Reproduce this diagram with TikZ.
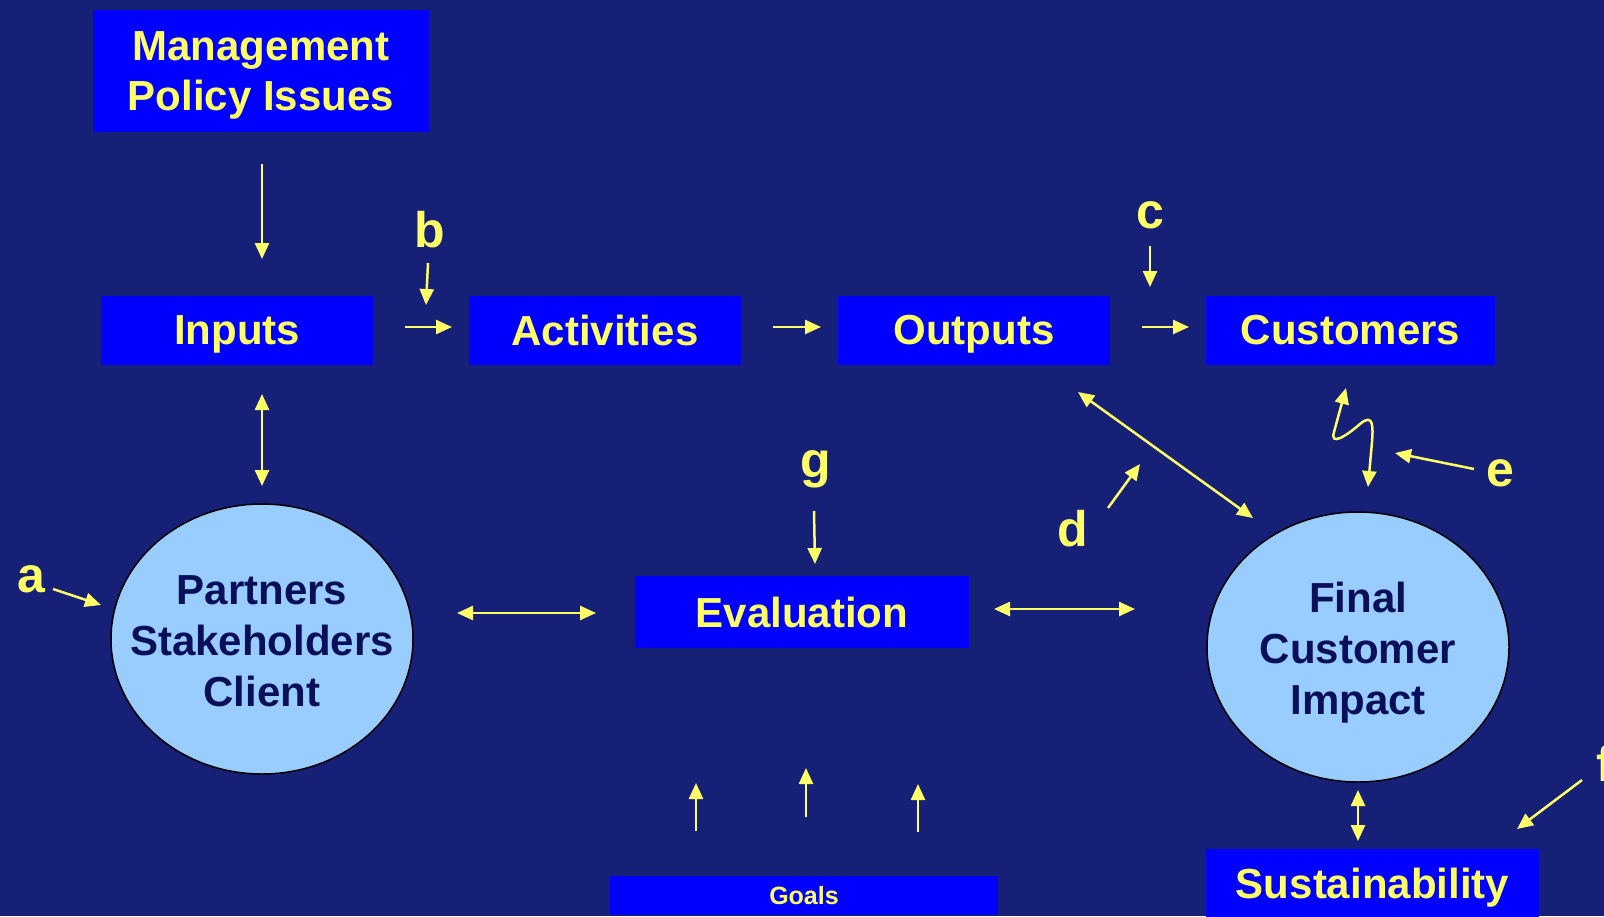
\documentclass[tikz,border=0pt]{standalone}
\usepackage{fontspec}
\setmainfont{Liberation Sans}
\usetikzlibrary{arrows.meta,shapes.geometric}
\definecolor{bg}{RGB}{22,32,118}
\definecolor{boxblue}{RGB}{0,0,255}
\definecolor{ylw}{RGB}{255,255,102}
\definecolor{ellfill}{RGB}{153,204,255}
\definecolor{elltext}{RGB}{10,15,90}
\begin{document}
\begin{tikzpicture}[x=1pt,y=-1pt,
  bluebox/.style={rectangle, fill=boxblue, text=ylw, font=\bfseries\fontsize{42}{50}\selectfont, inner sep=0pt, align=center, text depth=0pt},
  ellnode/.style={ellipse, draw=black, line width=1.5pt, fill=ellfill, inner sep=0pt, minimum width=302pt, minimum height=270pt},
  elltxt/.style={text=elltext, font=\bfseries\fontsize{42}{51}\selectfont, align=center, inner sep=0pt},
  arr/.style={draw=ylw, line width=2.5pt, -{Triangle[length=16pt,width=14pt]}},
  darr/.style={draw=ylw, line width=2.5pt, {Triangle[length=16pt,width=14pt]}-{Triangle[length=16pt,width=14pt]}},
  lbl/.style={text=ylw, font=\bfseries\fontsize{50}{60}\selectfont, inner sep=0pt}]
\fill[bg] (0,0) rectangle (1604,916);
\useasboundingbox (0,0) rectangle (1604,916);

% boxes
\node[bluebox, minimum width=336pt, minimum height=122pt] (mgmt) at (261,71) {Management\\Policy Issues};
\node[bluebox, minimum width=272pt, minimum height=69pt] (inputs) at (237,330) {Inputs};
\node[bluebox, minimum width=272pt, minimum height=69pt] (activities) at (605,330) {Activities};
\node[bluebox, minimum width=272pt, minimum height=69pt] (outputs) at (974,330) {Outputs};
\node[bluebox, minimum width=289pt, minimum height=69pt] (customers) at (1350.5,330) {Customers};
\node[bluebox, minimum width=334pt, minimum height=72pt] (evaluation) at (802,612) {Evaluation};
\node[bluebox, minimum width=388pt, minimum height=39pt, font=\bfseries\fontsize{25}{30}\selectfont] (goals) at (804,895) {Goals};
\node[bluebox, minimum width=333pt, minimum height=68pt] (sustain) at (1372.5,883) {Sustainability};

% ellipses
\node[ellnode] (partners) at (262,639) {};
\node[elltxt] (partnerstxt) at (262,641) {Partners\\Stakeholders\\Client};
\node[ellnode] (final) at (1358,647) {};
\node[elltxt] (finaltxt) at (1358,653) {Final\\Customer\\Impact};

% labels
\node[lbl] (la) at (31,579) {a};
\node[lbl] (lb) at (430,230) {b};
\node[lbl] (lc) at (1150,215) {c};
\node[lbl] (ld) at (1073,529) {d};
\node[lbl] (le) at (1500,473) {e};
\node[lbl, anchor=west] (lf) at (1596,763) {f};
\node[lbl] (lg) at (816,469) {g};

% arrow end points
\coordinate (m1) at (262,164); \coordinate (m2) at (262,259);
\coordinate (b1) at (428,263); \coordinate (b2) at (426,305);
\coordinate (ia1) at (405,327); \coordinate (ia2) at (452,327);
\coordinate (ao1) at (773,327); \coordinate (ao2) at (821,327);
\coordinate (oc1) at (1142,327); \coordinate (oc2) at (1189,327);
\coordinate (c1) at (1150,246); \coordinate (c2) at (1150,287);
\coordinate (ip1) at (262,394); \coordinate (ip2) at (262,486);
\coordinate (g1) at (814,511); \coordinate (g2) at (815,564);
\coordinate (pe1) at (457,613); \coordinate (pe2) at (596,613);
\coordinate (ef1) at (994,609); \coordinate (ef2) at (1135,609);
\coordinate (of1) at (1078,392); \coordinate (of2) at (1253,518);
\coordinate (d1) at (1108,508); \coordinate (d2) at (1140,464);
\coordinate (a1) at (53,589); \coordinate (a2) at (101,605);
\coordinate (e1) at (1474,469); \coordinate (e2) at (1395,453);
\coordinate (f1) at (1582,780); \coordinate (f2) at (1517,829);
\coordinate (fs1) at (1358,790); \coordinate (fs2) at (1358,841);
\coordinate (sq1) at (1346,388); \coordinate (sq2) at (1368,487);
\coordinate (gl1) at (696,831); \coordinate (gl2) at (696,783);
\coordinate (gm1) at (806,817); \coordinate (gm2) at (806,768);
\coordinate (gr1) at (918,832); \coordinate (gr2) at (918,784);

% arrows
\draw[arr] (m1) -- (m2);
\draw[arr] (b1) -- (b2);
\draw[arr] (ia1) -- (ia2);
\draw[arr] (ao1) -- (ao2);
\draw[arr] (oc1) -- (oc2);
\draw[arr] (c1) -- (c2);
\draw[darr] (ip1) -- (ip2);
\draw[arr] (g1) -- (g2);
\draw[darr] (pe1) -- (pe2);
\draw[darr] (ef1) -- (ef2);
\draw[darr] (of1) -- (of2);
\draw[arr] (d1) -- (d2);
\draw[arr] (a1) -- (a2);
\draw[arr] (e1) -- (e2);
\draw[arr] (f1) -- (f2);
\draw[darr] (fs1) -- (fs2);
\draw[darr] (sq1) -- (1334,432) .. controls (1330,446) and (1345,437) .. (1360,424) .. controls (1374,412) and (1373,428) .. (1372,442) -- (sq2);
\draw[arr] (gl1) -- (gl2);
\draw[arr] (gm1) -- (gm2);
\draw[arr] (gr1) -- (gr2);
\end{tikzpicture}
\end{document}
